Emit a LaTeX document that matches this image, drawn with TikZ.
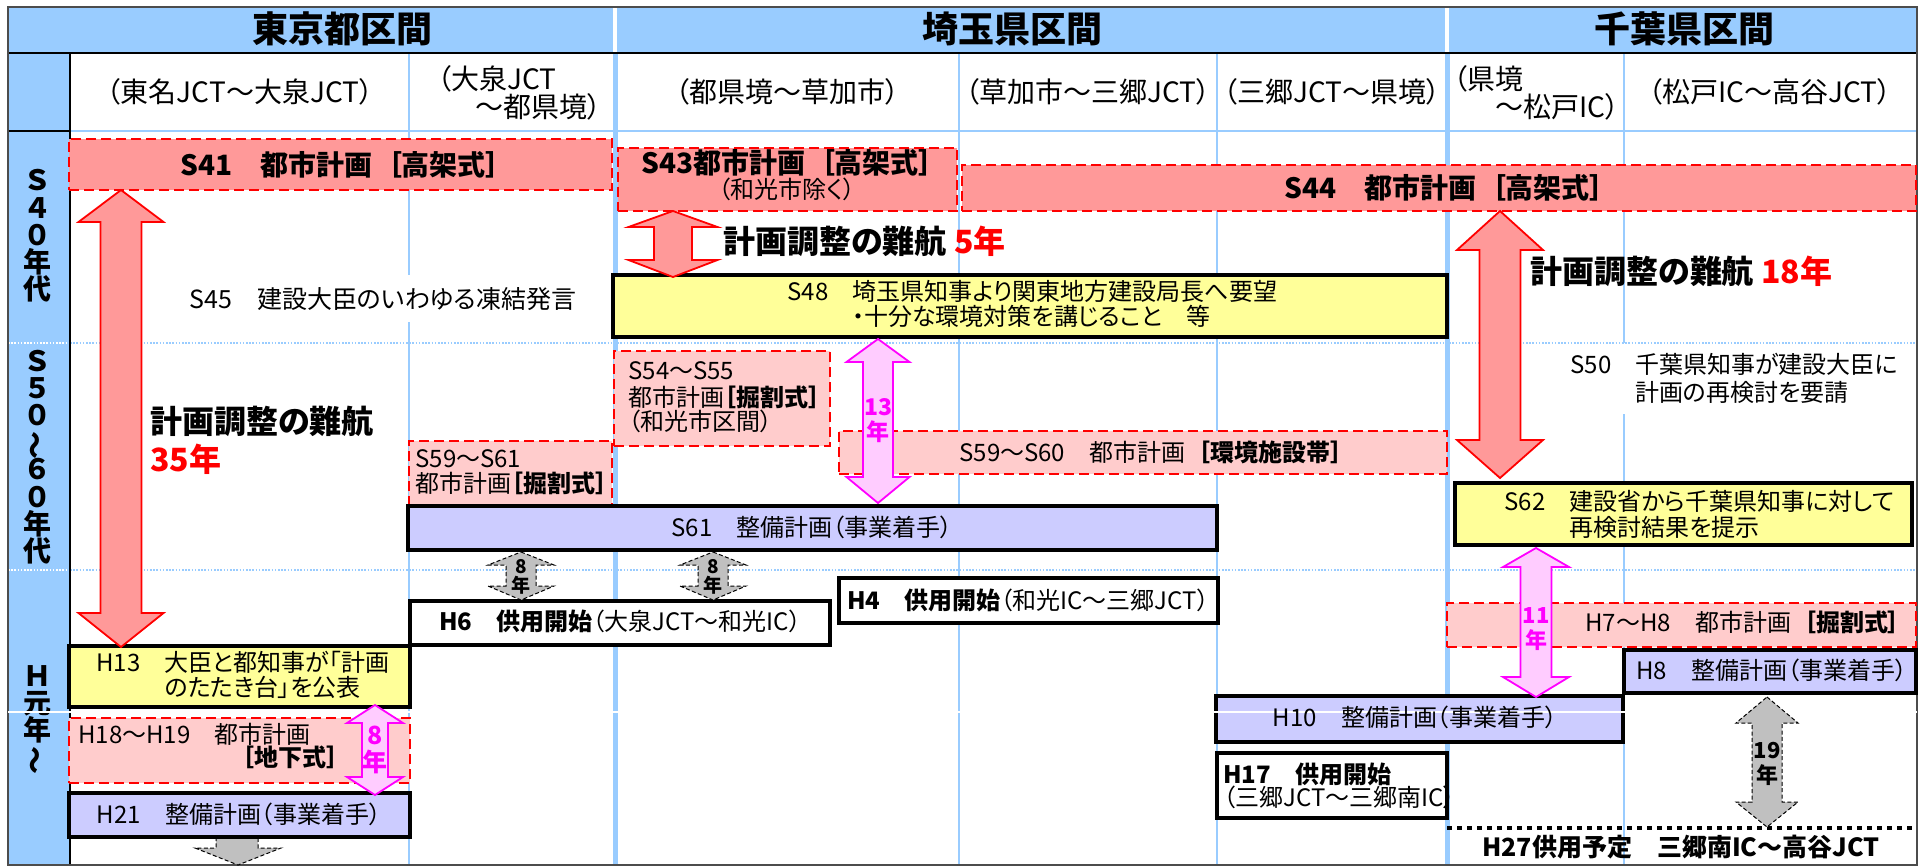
\documentclass[tikz,border=0pt]{standalone}
\usepackage{fontspec}
\usepackage{graphicx}
\setmainfont{Noto Sans CJK JP}[RawFeature=+palt]
\newfontfamily\jpfw{Noto Sans CJK JP}
\usetikzlibrary{fit}
\definecolor{hdr}{HTML}{99CCFF}
\definecolor{salm}{HTML}{FF9999}
\definecolor{lpink}{HTML}{FFCCCC}
\definecolor{yel}{HTML}{FFFF99}
\definecolor{purp}{HTML}{CCCCFF}
\definecolor{mag}{HTML}{FF00FF}
\definecolor{magf}{HTML}{FFCCFF}
\definecolor{gryf}{HTML}{C0C0C0}
\newcommand{\bx}[6]{\path (#2,#3) coordinate (#1-a) (#4,#5) coordinate (#1-b);
  \node[fit=(#1-a)(#1-b), inner sep=0pt, #6] (#1) {};}
\newcommand{\darr}[8]{\draw[#8] (#1,#2) -- ({#1+#6},#3) -- ({#1+#7},#3) -- ({#1+#7},#4) -- ({#1+#6},#4) -- (#1,#5) -- ({#1-#6},#4) -- ({#1-#7},#4) -- ({#1-#7},#3) -- ({#1-#6},#3) -- cycle;}
\newcommand{\vlf}{\jpfw\fontsize{14pt}{13.6pt}\selectfont\bfseries\lineskiplimit=-20pt\relax}
\newcommand{\vwave}{\rotatebox[origin=c]{90}{～}}
\newcommand{\bsp}{\hspace{0.55em}}
\tikzset{
  tx/.style={inner sep=0pt, anchor=base, font=\fontsize{#1pt}{#1pt}\selectfont, yshift={-0.37*#1pt}},
  txb/.style={tx=#1, font=\fontsize{#1pt}{#1pt}\selectfont\bfseries},
  txl/.style={tx=#1, anchor=base west},
  txr/.style={tx=#1, anchor=base east},
  txbl/.style={txb=#1, anchor=base west},
  dashbox/.style={draw=red, line width=1.2pt, dash pattern=on 5pt off 2.5pt},
  sbox/.style={dashbox, fill=salm},
  pkbox/.style={dashbox, fill=lpink},
  ybox/.style={draw=black, line width=2pt, fill=yel},
  pbox/.style={draw=black, line width=2pt, fill=purp},
  wbox/.style={draw=black, line width=2pt, fill=white},
  redarr/.style={fill=salm, draw=red, line width=0.9pt},
  magarr/.style={fill=magf, draw=mag, line width=0.9pt},
  grarr/.style={fill=gryf, draw=black, line width=0.5pt, dash pattern=on 2pt off 1.2pt},
  colline/.style={hdr, line width=1.1pt},
  vlab/.style={inner sep=0pt, align=center, font=\vlf},
}
\begin{document}
\begin{tikzpicture}[x=0.5pt,y=-0.5pt]
\useasboundingbox (0,0) rectangle (1921,867);
\fill[white] (0,0) rectangle (1921,867);
% header band and left column
\fill[hdr] (8,7) rectangle (1917,53);
\fill[hdr] (8,53) rectangle (70,865);
% grid lines
\draw[colline] (409,53) -- (409,275);
\draw[colline] (409,322) -- (409,865);
\draw[colline] (959,53) -- (959,865);
\draw[colline] (1217,53) -- (1217,865);
\draw[colline] (1624,53) -- (1624,343);
\draw[colline] (1624,414) -- (1624,865);
\draw[hdr, line width=2.5pt] (615,53) -- (615,865);
\draw[hdr, line width=2.5pt] (1447,53) -- (1447,865);
\draw[colline] (70,131) -- (1917,131);
\foreach \yy in {343,570}{
  \draw[hdr, line width=0.8pt, dash pattern=on 0.8pt off 0.8pt] (70,\yy) -- (1917,\yy);
  \draw[white, line width=0.8pt, dash pattern=on 0.8pt off 0.8pt] (8,\yy) -- (70,\yy);
}
\draw[black, line width=1pt] (8,53) -- (1917,53);
\draw[black, line width=1pt] (70,53) -- (70,865);
\draw[black, line width=1pt] (8,131) -- (70,131);
\draw[white, line width=2pt] (615,7) -- (615,52);
\draw[white, line width=2pt] (1447,7) -- (1447,52);
\draw[black!70, line width=0.7pt] (8,7) rectangle (1917,865);

% header texts
\node[txb=18] (h1) at (342,29) {東京都区間};
\node[txb=18] (h2) at (1012,29) {埼玉県区間};
\node[txb=18] (h3) at (1684,29) {千葉県区間};
\node[tx=14] (c1) at (240,92) {（東名JCT～大泉JCT）};
\node[txl=14] (c2a) at (437,79) {（大泉JCT};
\node[txr=14] (c2b) at (602,107) {～都県境）};
\node[tx=14] (c3) at (787,92) {（都県境～草加市）};
\node[tx=14] (c4) at (1088,92) {（草加市～三郷JCT）};
\node[tx=14] (c5) at (1332,92) {（三郷JCT～県境）};
\node[txl=14] (c6a) at (1453,79) {（県境};
\node[txr=14] (c6b) at (1620,107) {～松戸IC）};
\node[tx=14] (c7) at (1770,92) {（松戸IC～高谷JCT）};

% era labels
\node[vlab] (e1) at (38,236) {Ｓ\\４\\０\\年\\代};
\node[vlab] (e2) at (38,457) {Ｓ\\５\\０\\\vwave\\６\\０\\年\\代};
\node[vlab] (e3) at (38,720) {Ｈ\\元\\年\\\vwave};

% gray arrow below H21 (behind box)
\draw[grarr] (216,837) -- (216,848) -- (195,848) -- (238,865) -- (281,848) -- (258,848) -- (258,837) -- cycle;

% boxes
\bx{s41}{69}{139}{612}{190}{sbox}
\bx{s43}{618}{148}{957}{211}{sbox}
\bx{s44}{962}{165}{1916}{211}{sbox}
\bx{s48}{613}{275}{1447}{337}{ybox}
\bx{s54}{614}{351}{830}{446}{pkbox}
\bx{s5961}{409}{441}{612}{505}{pkbox}
\bx{s5960}{839}{431}{1447}{474}{pkbox}
\bx{s61}{408}{506}{1217}{550}{pbox}
\bx{s62}{1455}{483}{1912}{545}{ybox}
\bx{h4}{839}{578}{1218}{623}{wbox}
\bx{h6}{410}{601}{830}{645}{wbox}
\bx{h7}{1447}{603}{1916}{647}{pkbox}
\bx{h8}{1624}{650}{1916}{693}{pbox}
\bx{h13}{69}{646}{410}{707}{ybox}
\bx{h18}{69}{718}{410}{783}{pkbox}
\bx{h21}{69}{793}{410}{837}{pbox}
\bx{h10}{1216}{696}{1623}{742}{pbox}
\bx{h17}{1217}{753}{1447}{818}{wbox}

\draw[white, line width=0.6pt] (8,712) -- (1917,712);

% dotted line H27
\path (1447,828) coordinate (d1) (1916,828) coordinate (d2);
\draw[black, line width=2pt, dash pattern=on 2.5pt off 2.5pt] (d1) -- (d2);

% arrows
\darr{121}{190}{222}{613}{647}{42.5}{20.5}{redarr}
\darr{673}{211}{227}{260}{277}{44.5}{19}{redarr}
\darr{1500}{211}{250}{440}{478}{43}{20.5}{redarr}
\darr{878}{339}{362}{477}{503}{31.5}{15}{magarr}
\darr{375}{705}{723}{777}{795}{28}{13}{magarr}
\darr{1536}{548}{567}{677}{697}{33}{15.5}{magarr}
\darr{521}{552}{565}{586}{600}{33}{15}{grarr}
\darr{713}{552}{565}{586}{600}{33}{15}{grarr}
\darr{1767}{697}{723}{802}{827}{31}{15}{grarr}

% box texts
\node[txb=14] (t41) at (340,165) {S41　都市計画\bsp［高架式］};
\node[txb=14] (t43) at (787,163) {S43都市計画\bsp［高架式］};
\node[tx=12] (t43b) at (787,190) {（和光市除く）};
\node[txb=14] (t44) at (1444,188) {S44　都市計画\bsp［高架式］};
\node[txl=12.5] (t45) at (189,299) {S45　建設大臣のいわゆる凍結発言};
\node[txbl=16] (k35) at (150,422) {計画調整の難航};
\node[txbl=16, text=red] (k35b) at (150,460) {35年};
\node[txbl=16] (k5) at (723,242) {計画調整の難航 \textcolor{red}{5年}};
\node[txbl=16] (k18) at (1530,272) {計画調整の難航 \textcolor{red}{18年}};
\node[txl=12] (t48a) at (787,292) {S48　埼玉県知事より関東地方建設局長へ要望};
\node[txl=12] (t48b) at (787,317) {\phantom{S48　}・十分な環境対策を講じること　等};
\node[txl=12] (t50a) at (1570,365) {S50　千葉県知事が建設大臣に};
\node[txl=12] (t50b) at (1570,393) {\phantom{S50　}計画の再検討を要請};
\node[txl=12] (t54a) at (628,371) {S54～S55};
\node[txl=12] (t54b) at (628,398) {都市計画\textbf{［掘割式］}};
\node[txl=12] (t54c) at (628,422) {（和光市区間）};
\node[txl=12] (t59a) at (415,459) {S59～S61};
\node[txl=12] (t59b) at (415,484) {都市計画\textbf{［掘割式］}};
\node[txl=12] (t5960) at (959,453) {S59～S60　都市計画\bsp\textbf{［環境施設帯］}};
\node[tx=12] (t61) at (812,528) {S61　整備計画（事業着手）};
\node[txl=12] (t62a) at (1504,502) {S62　建設省から千葉県知事に対して};
\node[txl=12] (t62b) at (1504,528) {\phantom{S62　}再検討結果を提示};
\node[txl=12] (th4) at (847,601) {\textbf{H4　供用開始}（和光IC～三郷JCT）};
\node[txl=12] (th6) at (439,622) {\textbf{H6　供用開始}（大泉JCT～和光IC）};
\node[txl=12] (th7) at (1585,623) {H7～H8　都市計画\bsp\textbf{［掘割式］}};
\node[txl=12] (th8) at (1636,671) {H8　整備計画（事業着手）};
\node[tx=12] (th10) at (1415,718) {H10　整備計画（事業着手）};
\node[txl=12] (th13a) at (96,663) {H13　大臣と都知事が「計画};
\node[txl=12] (th13b) at (96,688) {\phantom{H13　}のたたき台」を公表};
\node[txbl=12] (th17a) at (1223,775) {H17　供用開始};
\node[txl=12] (th17b) at (1223,798) {（三郷JCT～三郷南IC）};
\node[txl=12] (th18a) at (78,735) {H18～H19　都市計画};
\node[txbl=12] (th18b) at (242,758) {［地下式］};
\node[tx=12] (th21) at (239,815) {H21　整備計画（事業着手）};
\node[txb=12.5] (th27) at (1681,847) {H27供用予定　三郷南IC～高谷JCT};

% arrow labels
\node[txb=11.5, text=mag] (a13a) at (878,407) {13};
\node[txb=11.5, text=mag] (a13b) at (878,432) {年};
\node[txb=12.5, text=mag] (a8a) at (375,735) {8};
\node[txb=12.5, text=mag] (a8b) at (375,762) {年};
\node[txb=11, text=mag] (a11a) at (1536,615) {11};
\node[txb=11, text=mag] (a11b) at (1536,640) {年};
\node[txb=9.5] (g8a) at (521,566) {8};
\node[txb=9.5] (g8b) at (521,585) {年};
\node[txb=9.5] (g8c) at (713,566) {8};
\node[txb=9.5] (g8d) at (713,585) {年};
\node[txb=11] (g19a) at (1767,750) {19};
\node[txb=11] (g19b) at (1767,775) {年};
\end{tikzpicture}
\end{document}
